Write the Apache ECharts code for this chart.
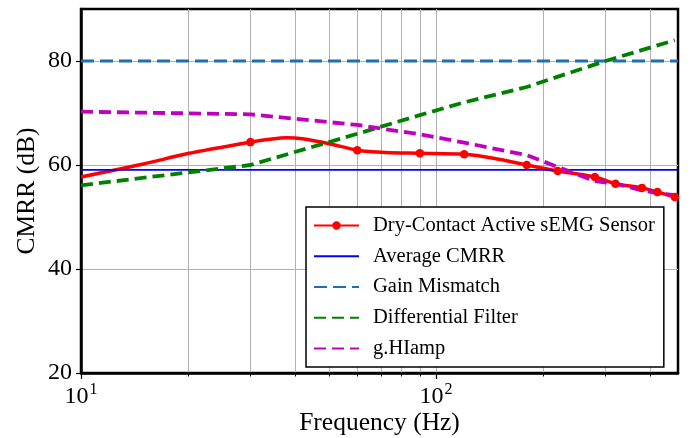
<!DOCTYPE html>
<html>
<head>
<meta charset="utf-8">
<script src="https://cdn.jsdelivr.net/npm/echarts@6/dist/echarts.min.js"></script>
<style>
html,body{margin:0;padding:0;background:#fff;}
#chart{width:693px;height:438px;}
</style>
</head>
<body>
<div id="chart"></div>
<script>
// ---- data ----
const freqMajorTicks = [10, 100];
const freqMinorTicks = [20, 30, 40, 50, 60, 70, 80, 90, 200, 300, 400];
const cmrrTicks = [20, 40, 60, 80];

const sensorFreq = [10, 15, 20, 30, 34, 38, 42, 50, 60, 72, 90, 120, 145, 180, 220, 280, 320, 380, 420, 470];
const sensorCmrr = [57.7, 60.2, 62.2, 64.4, 64.95, 65.25, 65.05, 64.1, 62.85, 62.4, 62.25, 62.05, 61.3, 60.0, 58.85, 57.7, 56.4, 55.6, 54.8, 53.85];
const sensorMarked = [0, 0, 0, 1, 0, 0, 0, 0, 1, 0, 1, 1, 0, 1, 1, 1, 1, 1, 1, 1];

const avgFreq = [10, 480];
const avgCmrr = [59.05, 59.05];

const gainFreq = [10, 480];
const gainCmrr = [80, 80];

const diffFreq = [10, 30, 60, 90, 120, 180, 300, 470];
const diffCmrr = [56.1, 60.0, 66.0, 69.6, 72.05, 75.0, 80.0, 84.0];

const hiampFreq = [10, 30, 60, 90, 120, 180, 280, 320, 380, 420, 470];
const hiampCmrr = [70.25, 69.75, 67.7, 65.9, 64.3, 61.9, 56.9, 56.4, 55.1, 54.6, 54.2];

const seriesNames = ['Dry-Contact Active sEMG Sensor', 'Average CMRR', 'Gain Mismatch', 'Differential Filter', 'g.HIamp'];

const xMin = 10, xMax = 480, yMin = 20, yMax = 90;

// ---- build ----
const pairs = (xs, ys) => xs.map((x, i) => [x, ys[i]]);
const sensorData = sensorFreq.map((f, i) => ({
  value: [f, sensorCmrr[i]],
  symbol: sensorMarked[i] ? 'circle' : 'none'
}));

const serif = 'Liberation Serif, Times New Roman, serif';
const hiddenSymbol = {color: 'rgba(0,0,0,0)', opacity: 0, borderWidth: 0};

const chart = echarts.init(document.getElementById('chart'), null, {renderer: 'canvas'});
chart.setOption({
  animation: false,
  backgroundColor: '#fff',
  grid: {
    left: 81, right: 15, top: 9, bottom: 65,
    containLabel: false, outerBoundsMode: 'none',
    show: true, borderColor: '#000', borderWidth: 2.5, backgroundColor: 'transparent'
  },
  legend: {
    data: seriesNames.map((n, i) => i === 0 ? {name: n} : {name: n, itemStyle: hiddenSymbol}),
    orient: 'vertical',
    left: 306, top: 207,
    padding: [8, 9, 8, 7],
    itemWidth: 45, itemHeight: 10.5, itemGap: 9.75,
    backgroundColor: '#fff',
    borderColor: '#000', borderWidth: 1.5, borderRadius: 0,
    textStyle: {fontFamily: serif, fontSize: 20.5, lineHeight: 20, color: '#000', padding: [0, 0, 0, 9]}
  },
  xAxis: [{
    type: 'log', logBase: 10, min: xMin, max: xMax,
    name: 'Frequency (Hz)', nameLocation: 'middle', nameGap: 37, nameMoveOverlap: false,
    nameTextStyle: {fontFamily: serif, fontSize: 25.5, color: '#000'},
    axisLine: {show: true, lineStyle: {color: '#000', width: 2.5}},
    axisTick: {show: true, inside: false, length: 6, customValues: freqMajorTicks, lineStyle: {color: '#000', width: 1.2}},
    axisLabel: {
      customValues: freqMajorTicks, margin: 10,
      formatter: v => '{m|10}{s|' + Math.round(Math.log10(v)) + '}',
      rich: {
        m: {fontFamily: serif, fontSize: 24, color: '#000', verticalAlign: 'bottom', lineHeight: 26},
        s: {fontFamily: serif, fontSize: 16, color: '#000', verticalAlign: 'bottom', padding: [0, 0, 11, 1], lineHeight: 16}
      }
    },
    splitLine: {show: true, lineStyle: {color: '#b0b0b0', width: 1}}
  }, {
    type: 'log', logBase: 10, min: xMin, max: xMax, position: 'bottom',
    axisLine: {show: false},
    axisTick: {show: true, inside: false, length: 3.5, customValues: freqMinorTicks, lineStyle: {color: '#000', width: 1}},
    axisLabel: {show: false},
    splitLine: {show: true, lineStyle: {color: '#b0b0b0', width: 1}}
  }],
  yAxis: {
    type: 'value', min: yMin, max: yMax, interval: 20,
    name: 'CMRR (dB)', nameLocation: 'middle', nameGap: 41, nameMoveOverlap: false,
    nameTextStyle: {fontFamily: serif, fontSize: 25.5, color: '#000'},
    axisLine: {show: true, lineStyle: {color: '#000', width: 2.5}},
    axisTick: {show: true, inside: false, length: 5, customValues: cmrrTicks, lineStyle: {color: '#000', width: 1.2}},
    axisLabel: {customValues: cmrrTicks, margin: 9, fontFamily: serif, fontSize: 24, color: '#000'},
    splitLine: {show: true, lineStyle: {color: '#b0b0b0', width: 1}}
  },
  series: [{
    name: seriesNames[0], type: 'line', data: sensorData, smooth: 0.3,
    symbol: 'circle', symbolSize: 8.5, showSymbol: true,
    lineStyle: {color: '#ff0000', width: 3.5},
    itemStyle: {color: '#ff0000'}
  }, {
    name: seriesNames[1], type: 'line', data: pairs(avgFreq, avgCmrr), symbol: 'none',
    lineStyle: {color: '#0000ff', width: 1.8},
    itemStyle: {color: '#0000ff'}
  }, {
    name: seriesNames[2], type: 'line', data: pairs(gainFreq, gainCmrr), symbol: 'none',
    lineStyle: {color: '#1f6fb4', width: 3.2, type: [13, 6]},
    itemStyle: {color: '#1f6fb4'}
  }, {
    name: seriesNames[3], type: 'line', data: pairs(diffFreq, diffCmrr), symbol: 'none',
    lineStyle: {color: '#008000', width: 3.8, type: [12, 6]},
    itemStyle: {color: '#008000'}
  }, {
    name: seriesNames[4], type: 'line', data: pairs(hiampFreq, hiampCmrr), symbol: 'none',
    lineStyle: {color: '#bf00bf', width: 3.8, type: [12, 6]},
    itemStyle: {color: '#bf00bf'}
  }]
});
</script>
</body>
</html>
